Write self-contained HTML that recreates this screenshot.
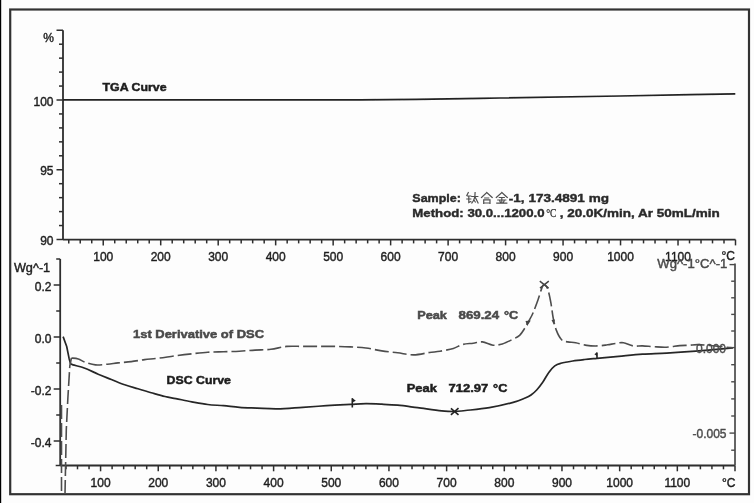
<!DOCTYPE html>
<html><head><meta charset="utf-8"><style>
html,body{margin:0;padding:0;background:#fff;}
body{width:754px;height:503px;overflow:hidden;position:relative;}
svg{position:absolute;left:0;top:0;}
text{font-family:"Liberation Sans",sans-serif;fill:#1e1e1e;}
.ax{font-size:12px;stroke:#1e1e1e;stroke-width:0.4px;}
.ax.gr{stroke:#4a4a4a;}
.lbl{font-size:11.5px;font-weight:bold;stroke:#1e1e1e;stroke-width:0.5px;}
.lbl2{font-size:11.5px;font-weight:bold;stroke:#2a2a2a;stroke-width:0.4px;fill:#2a2a2a;}
.lbl.gr{stroke:#4a4a4a;}
.cjkc{font-family:"Liberation Serif",serif;font-size:13.5px;fill:#2a2a2a;stroke:#2a2a2a;stroke-width:0.25px;}
.gr{fill:#4a4a4a;}
</style></head><body>
<svg width="754" height="503" viewBox="0 0 754 503">
<defs><filter id="bl" x="0" y="0" width="754" height="503" filterUnits="userSpaceOnUse"><feGaussianBlur stdDeviation="0.35"/></filter></defs>
<rect width="754" height="503" fill="#fdfdfd"/>
<g filter="url(#bl)">
<rect x="10.2" y="9.5" width="738.8" height="484.7" fill="none" stroke="#333" stroke-width="2.2"/>
<rect x="0" y="0" width="1.2" height="503" fill="#000"/>
<line x1="63.0" y1="30.25" x2="63.0" y2="239.6" stroke="#2e2e2e" stroke-width="1.8"/>
<line x1="56.5" y1="239.50" x2="63.0" y2="239.50" stroke="#2e2e2e" stroke-width="1.5"/>
<line x1="59.0" y1="225.55" x2="63.0" y2="225.55" stroke="#2e2e2e" stroke-width="1.5"/>
<line x1="59.0" y1="211.60" x2="63.0" y2="211.60" stroke="#2e2e2e" stroke-width="1.5"/>
<line x1="59.0" y1="197.65" x2="63.0" y2="197.65" stroke="#2e2e2e" stroke-width="1.5"/>
<line x1="59.0" y1="183.70" x2="63.0" y2="183.70" stroke="#2e2e2e" stroke-width="1.5"/>
<line x1="56.5" y1="169.75" x2="63.0" y2="169.75" stroke="#2e2e2e" stroke-width="1.5"/>
<line x1="59.0" y1="155.80" x2="63.0" y2="155.80" stroke="#2e2e2e" stroke-width="1.5"/>
<line x1="59.0" y1="141.85" x2="63.0" y2="141.85" stroke="#2e2e2e" stroke-width="1.5"/>
<line x1="59.0" y1="127.90" x2="63.0" y2="127.90" stroke="#2e2e2e" stroke-width="1.5"/>
<line x1="59.0" y1="113.95" x2="63.0" y2="113.95" stroke="#2e2e2e" stroke-width="1.5"/>
<line x1="56.5" y1="100.00" x2="63.0" y2="100.00" stroke="#2e2e2e" stroke-width="1.5"/>
<line x1="59.0" y1="86.05" x2="63.0" y2="86.05" stroke="#2e2e2e" stroke-width="1.5"/>
<line x1="59.0" y1="72.10" x2="63.0" y2="72.10" stroke="#2e2e2e" stroke-width="1.5"/>
<line x1="59.0" y1="58.15" x2="63.0" y2="58.15" stroke="#2e2e2e" stroke-width="1.5"/>
<line x1="59.0" y1="44.20" x2="63.0" y2="44.20" stroke="#2e2e2e" stroke-width="1.5"/>
<line x1="56.5" y1="30.25" x2="63.0" y2="30.25" stroke="#2e2e2e" stroke-width="1.5"/>
<text x="53.5" y="105.60" class="ax" text-anchor="end">100</text>
<text x="53.5" y="175.35" class="ax" text-anchor="end">95</text>
<text x="53.5" y="245.10" class="ax" text-anchor="end">90</text>
<text x="54" y="42" class="ax" text-anchor="end">%</text>
<line x1="63.0" y1="239.6" x2="735.5" y2="239.6" stroke="#2e2e2e" stroke-width="1.9"/>
<line x1="68.75" y1="239.6" x2="68.75" y2="243.4" stroke="#2e2e2e" stroke-width="1.5"/>
<line x1="80.24" y1="239.6" x2="80.24" y2="243.4" stroke="#2e2e2e" stroke-width="1.5"/>
<line x1="91.74" y1="239.6" x2="91.74" y2="243.4" stroke="#2e2e2e" stroke-width="1.5"/>
<line x1="103.24" y1="239.6" x2="103.24" y2="245.4" stroke="#2e2e2e" stroke-width="1.5"/>
<line x1="114.73" y1="239.6" x2="114.73" y2="243.4" stroke="#2e2e2e" stroke-width="1.5"/>
<line x1="126.23" y1="239.6" x2="126.23" y2="243.4" stroke="#2e2e2e" stroke-width="1.5"/>
<line x1="137.72" y1="239.6" x2="137.72" y2="243.4" stroke="#2e2e2e" stroke-width="1.5"/>
<line x1="149.22" y1="239.6" x2="149.22" y2="243.4" stroke="#2e2e2e" stroke-width="1.5"/>
<line x1="160.71" y1="239.6" x2="160.71" y2="245.4" stroke="#2e2e2e" stroke-width="1.5"/>
<line x1="172.21" y1="239.6" x2="172.21" y2="243.4" stroke="#2e2e2e" stroke-width="1.5"/>
<line x1="183.71" y1="239.6" x2="183.71" y2="243.4" stroke="#2e2e2e" stroke-width="1.5"/>
<line x1="195.20" y1="239.6" x2="195.20" y2="243.4" stroke="#2e2e2e" stroke-width="1.5"/>
<line x1="206.70" y1="239.6" x2="206.70" y2="243.4" stroke="#2e2e2e" stroke-width="1.5"/>
<line x1="218.19" y1="239.6" x2="218.19" y2="245.4" stroke="#2e2e2e" stroke-width="1.5"/>
<line x1="229.69" y1="239.6" x2="229.69" y2="243.4" stroke="#2e2e2e" stroke-width="1.5"/>
<line x1="241.18" y1="239.6" x2="241.18" y2="243.4" stroke="#2e2e2e" stroke-width="1.5"/>
<line x1="252.68" y1="239.6" x2="252.68" y2="243.4" stroke="#2e2e2e" stroke-width="1.5"/>
<line x1="264.18" y1="239.6" x2="264.18" y2="243.4" stroke="#2e2e2e" stroke-width="1.5"/>
<line x1="275.67" y1="239.6" x2="275.67" y2="245.4" stroke="#2e2e2e" stroke-width="1.5"/>
<line x1="287.17" y1="239.6" x2="287.17" y2="243.4" stroke="#2e2e2e" stroke-width="1.5"/>
<line x1="298.66" y1="239.6" x2="298.66" y2="243.4" stroke="#2e2e2e" stroke-width="1.5"/>
<line x1="310.16" y1="239.6" x2="310.16" y2="243.4" stroke="#2e2e2e" stroke-width="1.5"/>
<line x1="321.65" y1="239.6" x2="321.65" y2="243.4" stroke="#2e2e2e" stroke-width="1.5"/>
<line x1="333.15" y1="239.6" x2="333.15" y2="245.4" stroke="#2e2e2e" stroke-width="1.5"/>
<line x1="344.65" y1="239.6" x2="344.65" y2="243.4" stroke="#2e2e2e" stroke-width="1.5"/>
<line x1="356.14" y1="239.6" x2="356.14" y2="243.4" stroke="#2e2e2e" stroke-width="1.5"/>
<line x1="367.64" y1="239.6" x2="367.64" y2="243.4" stroke="#2e2e2e" stroke-width="1.5"/>
<line x1="379.13" y1="239.6" x2="379.13" y2="243.4" stroke="#2e2e2e" stroke-width="1.5"/>
<line x1="390.63" y1="239.6" x2="390.63" y2="245.4" stroke="#2e2e2e" stroke-width="1.5"/>
<line x1="402.12" y1="239.6" x2="402.12" y2="243.4" stroke="#2e2e2e" stroke-width="1.5"/>
<line x1="413.62" y1="239.6" x2="413.62" y2="243.4" stroke="#2e2e2e" stroke-width="1.5"/>
<line x1="425.12" y1="239.6" x2="425.12" y2="243.4" stroke="#2e2e2e" stroke-width="1.5"/>
<line x1="436.61" y1="239.6" x2="436.61" y2="243.4" stroke="#2e2e2e" stroke-width="1.5"/>
<line x1="448.11" y1="239.6" x2="448.11" y2="245.4" stroke="#2e2e2e" stroke-width="1.5"/>
<line x1="459.60" y1="239.6" x2="459.60" y2="243.4" stroke="#2e2e2e" stroke-width="1.5"/>
<line x1="471.10" y1="239.6" x2="471.10" y2="243.4" stroke="#2e2e2e" stroke-width="1.5"/>
<line x1="482.59" y1="239.6" x2="482.59" y2="243.4" stroke="#2e2e2e" stroke-width="1.5"/>
<line x1="494.09" y1="239.6" x2="494.09" y2="243.4" stroke="#2e2e2e" stroke-width="1.5"/>
<line x1="505.59" y1="239.6" x2="505.59" y2="245.4" stroke="#2e2e2e" stroke-width="1.5"/>
<line x1="517.08" y1="239.6" x2="517.08" y2="243.4" stroke="#2e2e2e" stroke-width="1.5"/>
<line x1="528.58" y1="239.6" x2="528.58" y2="243.4" stroke="#2e2e2e" stroke-width="1.5"/>
<line x1="540.07" y1="239.6" x2="540.07" y2="243.4" stroke="#2e2e2e" stroke-width="1.5"/>
<line x1="551.57" y1="239.6" x2="551.57" y2="243.4" stroke="#2e2e2e" stroke-width="1.5"/>
<line x1="563.06" y1="239.6" x2="563.06" y2="245.4" stroke="#2e2e2e" stroke-width="1.5"/>
<line x1="574.56" y1="239.6" x2="574.56" y2="243.4" stroke="#2e2e2e" stroke-width="1.5"/>
<line x1="586.06" y1="239.6" x2="586.06" y2="243.4" stroke="#2e2e2e" stroke-width="1.5"/>
<line x1="597.55" y1="239.6" x2="597.55" y2="243.4" stroke="#2e2e2e" stroke-width="1.5"/>
<line x1="609.05" y1="239.6" x2="609.05" y2="243.4" stroke="#2e2e2e" stroke-width="1.5"/>
<line x1="620.54" y1="239.6" x2="620.54" y2="245.4" stroke="#2e2e2e" stroke-width="1.5"/>
<line x1="632.04" y1="239.6" x2="632.04" y2="243.4" stroke="#2e2e2e" stroke-width="1.5"/>
<line x1="643.53" y1="239.6" x2="643.53" y2="243.4" stroke="#2e2e2e" stroke-width="1.5"/>
<line x1="655.03" y1="239.6" x2="655.03" y2="243.4" stroke="#2e2e2e" stroke-width="1.5"/>
<line x1="666.53" y1="239.6" x2="666.53" y2="243.4" stroke="#2e2e2e" stroke-width="1.5"/>
<line x1="678.02" y1="239.6" x2="678.02" y2="245.4" stroke="#2e2e2e" stroke-width="1.5"/>
<line x1="689.52" y1="239.6" x2="689.52" y2="243.4" stroke="#2e2e2e" stroke-width="1.5"/>
<line x1="701.01" y1="239.6" x2="701.01" y2="243.4" stroke="#2e2e2e" stroke-width="1.5"/>
<line x1="712.51" y1="239.6" x2="712.51" y2="243.4" stroke="#2e2e2e" stroke-width="1.5"/>
<line x1="724.00" y1="239.6" x2="724.00" y2="243.4" stroke="#2e2e2e" stroke-width="1.5"/>
<line x1="735.50" y1="239.6" x2="735.50" y2="245.4" stroke="#2e2e2e" stroke-width="1.5"/>
<text x="103.24" y="260.9" class="ax" text-anchor="middle">100</text>
<text x="160.71" y="260.9" class="ax" text-anchor="middle">200</text>
<text x="218.19" y="260.9" class="ax" text-anchor="middle">300</text>
<text x="275.67" y="260.9" class="ax" text-anchor="middle">400</text>
<text x="333.15" y="260.9" class="ax" text-anchor="middle">500</text>
<text x="390.63" y="260.9" class="ax" text-anchor="middle">600</text>
<text x="448.11" y="260.9" class="ax" text-anchor="middle">700</text>
<text x="505.59" y="260.9" class="ax" text-anchor="middle">800</text>
<text x="563.06" y="260.9" class="ax" text-anchor="middle">900</text>
<text x="620.54" y="260.9" class="ax" text-anchor="middle">1000</text>
<text x="678.02" y="260.9" class="ax" text-anchor="middle">1100</text>
<text x="735" y="260" class="ax" text-anchor="end">°C</text>
<text x="102.5" y="91.1" class="lbl" textLength="64" lengthAdjust="spacingAndGlyphs">TGA Curve</text>
<text x="412.3" y="202.3" class="lbl2" textLength="48.6" lengthAdjust="spacingAndGlyphs">Sample:</text>
<text x="508.8" y="202.3" class="lbl2" textLength="100.2" lengthAdjust="spacingAndGlyphs">-1, 173.4891 mg</text>
<text x="412.3" y="216.5" class="lbl2" textLength="132.3" lengthAdjust="spacingAndGlyphs">Method: 30.0...1200.0</text>
<text x="546.2" y="216.8" class="cjkc" textLength="10.3" lengthAdjust="spacingAndGlyphs">°C</text>
<text x="559.7" y="216.5" class="lbl2" textLength="160.1" lengthAdjust="spacingAndGlyphs">, 20.0K/min, Ar 50mL/min</text>
<path transform="translate(466.3,192)" d="M2,0.5 L0.5,3.5 M1,4 L4.5,4 M0.5,7 L4.5,7 M2.5,4 L2.5,10.5 L4.5,9.5 M5.5,4.5 L11.5,4.5 M8.8,0.5 C8.8,6 7.5,9 5.5,11 M8.8,5 L11.8,11 M8,8.5 L9,10" fill="none" stroke="#505050" stroke-width="1.2" stroke-linecap="square"/>
<path transform="translate(481.2,192)" d="M5.5,0.5 L0.3,5.5 M5.5,0.5 L11,5.5 M3.5,6 L7.5,6 M2.5,7.8 L2.5,11.3 M2.5,7.8 L8.8,7.8 L8.8,11.3 M2.5,11 L8.8,11" fill="none" stroke="#505050" stroke-width="1.2" stroke-linecap="square"/>
<path transform="translate(495.8,192)" d="M6,0.5 L0.5,5.5 M6,0.5 L11.5,5.5 M3.5,5.5 L8.5,5.5 M2,8 L10,8 M6,5.5 L6,11 M4,9 L4.6,10.3 M8.3,9 L7.6,10.3 M1,11.2 L11,11.2" fill="none" stroke="#505050" stroke-width="1.2" stroke-linecap="square"/>
<line x1="60.2" y1="259.0" x2="60.2" y2="465.5" stroke="#2e2e2e" stroke-width="1.8"/>
<line x1="53.7" y1="441.00" x2="60.2" y2="441.00" stroke="#2e2e2e" stroke-width="1.5"/>
<line x1="56.2" y1="415.00" x2="60.2" y2="415.00" stroke="#2e2e2e" stroke-width="1.5"/>
<line x1="53.7" y1="389.00" x2="60.2" y2="389.00" stroke="#2e2e2e" stroke-width="1.5"/>
<line x1="56.2" y1="363.00" x2="60.2" y2="363.00" stroke="#2e2e2e" stroke-width="1.5"/>
<line x1="53.7" y1="337.00" x2="60.2" y2="337.00" stroke="#2e2e2e" stroke-width="1.5"/>
<line x1="56.2" y1="311.00" x2="60.2" y2="311.00" stroke="#2e2e2e" stroke-width="1.5"/>
<line x1="53.7" y1="285.00" x2="60.2" y2="285.00" stroke="#2e2e2e" stroke-width="1.5"/>
<line x1="56.2" y1="259.00" x2="60.2" y2="259.00" stroke="#2e2e2e" stroke-width="1.5"/>
<line x1="55.7" y1="465.5" x2="60.2" y2="465.5" stroke="#2e2e2e" stroke-width="1.5"/>
<text x="51.5" y="290.60" class="ax" text-anchor="end">0.2</text>
<text x="51.5" y="342.60" class="ax" text-anchor="end">0.0</text>
<text x="51.5" y="394.60" class="ax" text-anchor="end">-0.2</text>
<text x="51.5" y="446.60" class="ax" text-anchor="end">-0.4</text>
<text x="13.9" y="271.5" class="ax" textLength="36.3" lengthAdjust="spacingAndGlyphs">Wg^-1</text>
<line x1="60.2" y1="465.5" x2="735.0" y2="465.5" stroke="#2e2e2e" stroke-width="1.9"/>
<line x1="65.97" y1="465.5" x2="65.97" y2="469.3" stroke="#2e2e2e" stroke-width="1.5"/>
<line x1="77.50" y1="465.5" x2="77.50" y2="469.3" stroke="#2e2e2e" stroke-width="1.5"/>
<line x1="89.04" y1="465.5" x2="89.04" y2="469.3" stroke="#2e2e2e" stroke-width="1.5"/>
<line x1="100.57" y1="465.5" x2="100.57" y2="471.3" stroke="#2e2e2e" stroke-width="1.5"/>
<line x1="112.11" y1="465.5" x2="112.11" y2="469.3" stroke="#2e2e2e" stroke-width="1.5"/>
<line x1="123.64" y1="465.5" x2="123.64" y2="469.3" stroke="#2e2e2e" stroke-width="1.5"/>
<line x1="135.18" y1="465.5" x2="135.18" y2="469.3" stroke="#2e2e2e" stroke-width="1.5"/>
<line x1="146.71" y1="465.5" x2="146.71" y2="469.3" stroke="#2e2e2e" stroke-width="1.5"/>
<line x1="158.25" y1="465.5" x2="158.25" y2="471.3" stroke="#2e2e2e" stroke-width="1.5"/>
<line x1="169.78" y1="465.5" x2="169.78" y2="469.3" stroke="#2e2e2e" stroke-width="1.5"/>
<line x1="181.32" y1="465.5" x2="181.32" y2="469.3" stroke="#2e2e2e" stroke-width="1.5"/>
<line x1="192.85" y1="465.5" x2="192.85" y2="469.3" stroke="#2e2e2e" stroke-width="1.5"/>
<line x1="204.39" y1="465.5" x2="204.39" y2="469.3" stroke="#2e2e2e" stroke-width="1.5"/>
<line x1="215.92" y1="465.5" x2="215.92" y2="471.3" stroke="#2e2e2e" stroke-width="1.5"/>
<line x1="227.46" y1="465.5" x2="227.46" y2="469.3" stroke="#2e2e2e" stroke-width="1.5"/>
<line x1="238.99" y1="465.5" x2="238.99" y2="469.3" stroke="#2e2e2e" stroke-width="1.5"/>
<line x1="250.53" y1="465.5" x2="250.53" y2="469.3" stroke="#2e2e2e" stroke-width="1.5"/>
<line x1="262.06" y1="465.5" x2="262.06" y2="469.3" stroke="#2e2e2e" stroke-width="1.5"/>
<line x1="273.60" y1="465.5" x2="273.60" y2="471.3" stroke="#2e2e2e" stroke-width="1.5"/>
<line x1="285.13" y1="465.5" x2="285.13" y2="469.3" stroke="#2e2e2e" stroke-width="1.5"/>
<line x1="296.67" y1="465.5" x2="296.67" y2="469.3" stroke="#2e2e2e" stroke-width="1.5"/>
<line x1="308.20" y1="465.5" x2="308.20" y2="469.3" stroke="#2e2e2e" stroke-width="1.5"/>
<line x1="319.74" y1="465.5" x2="319.74" y2="469.3" stroke="#2e2e2e" stroke-width="1.5"/>
<line x1="331.27" y1="465.5" x2="331.27" y2="471.3" stroke="#2e2e2e" stroke-width="1.5"/>
<line x1="342.81" y1="465.5" x2="342.81" y2="469.3" stroke="#2e2e2e" stroke-width="1.5"/>
<line x1="354.34" y1="465.5" x2="354.34" y2="469.3" stroke="#2e2e2e" stroke-width="1.5"/>
<line x1="365.88" y1="465.5" x2="365.88" y2="469.3" stroke="#2e2e2e" stroke-width="1.5"/>
<line x1="377.41" y1="465.5" x2="377.41" y2="469.3" stroke="#2e2e2e" stroke-width="1.5"/>
<line x1="388.95" y1="465.5" x2="388.95" y2="471.3" stroke="#2e2e2e" stroke-width="1.5"/>
<line x1="400.48" y1="465.5" x2="400.48" y2="469.3" stroke="#2e2e2e" stroke-width="1.5"/>
<line x1="412.02" y1="465.5" x2="412.02" y2="469.3" stroke="#2e2e2e" stroke-width="1.5"/>
<line x1="423.55" y1="465.5" x2="423.55" y2="469.3" stroke="#2e2e2e" stroke-width="1.5"/>
<line x1="435.09" y1="465.5" x2="435.09" y2="469.3" stroke="#2e2e2e" stroke-width="1.5"/>
<line x1="446.62" y1="465.5" x2="446.62" y2="471.3" stroke="#2e2e2e" stroke-width="1.5"/>
<line x1="458.16" y1="465.5" x2="458.16" y2="469.3" stroke="#2e2e2e" stroke-width="1.5"/>
<line x1="469.69" y1="465.5" x2="469.69" y2="469.3" stroke="#2e2e2e" stroke-width="1.5"/>
<line x1="481.23" y1="465.5" x2="481.23" y2="469.3" stroke="#2e2e2e" stroke-width="1.5"/>
<line x1="492.76" y1="465.5" x2="492.76" y2="469.3" stroke="#2e2e2e" stroke-width="1.5"/>
<line x1="504.30" y1="465.5" x2="504.30" y2="471.3" stroke="#2e2e2e" stroke-width="1.5"/>
<line x1="515.83" y1="465.5" x2="515.83" y2="469.3" stroke="#2e2e2e" stroke-width="1.5"/>
<line x1="527.37" y1="465.5" x2="527.37" y2="469.3" stroke="#2e2e2e" stroke-width="1.5"/>
<line x1="538.90" y1="465.5" x2="538.90" y2="469.3" stroke="#2e2e2e" stroke-width="1.5"/>
<line x1="550.44" y1="465.5" x2="550.44" y2="469.3" stroke="#2e2e2e" stroke-width="1.5"/>
<line x1="561.97" y1="465.5" x2="561.97" y2="471.3" stroke="#2e2e2e" stroke-width="1.5"/>
<line x1="573.51" y1="465.5" x2="573.51" y2="469.3" stroke="#2e2e2e" stroke-width="1.5"/>
<line x1="585.04" y1="465.5" x2="585.04" y2="469.3" stroke="#2e2e2e" stroke-width="1.5"/>
<line x1="596.58" y1="465.5" x2="596.58" y2="469.3" stroke="#2e2e2e" stroke-width="1.5"/>
<line x1="608.11" y1="465.5" x2="608.11" y2="469.3" stroke="#2e2e2e" stroke-width="1.5"/>
<line x1="619.65" y1="465.5" x2="619.65" y2="471.3" stroke="#2e2e2e" stroke-width="1.5"/>
<line x1="631.18" y1="465.5" x2="631.18" y2="469.3" stroke="#2e2e2e" stroke-width="1.5"/>
<line x1="642.72" y1="465.5" x2="642.72" y2="469.3" stroke="#2e2e2e" stroke-width="1.5"/>
<line x1="654.25" y1="465.5" x2="654.25" y2="469.3" stroke="#2e2e2e" stroke-width="1.5"/>
<line x1="665.79" y1="465.5" x2="665.79" y2="469.3" stroke="#2e2e2e" stroke-width="1.5"/>
<line x1="677.32" y1="465.5" x2="677.32" y2="471.3" stroke="#2e2e2e" stroke-width="1.5"/>
<line x1="688.86" y1="465.5" x2="688.86" y2="469.3" stroke="#2e2e2e" stroke-width="1.5"/>
<line x1="700.39" y1="465.5" x2="700.39" y2="469.3" stroke="#2e2e2e" stroke-width="1.5"/>
<line x1="711.93" y1="465.5" x2="711.93" y2="469.3" stroke="#2e2e2e" stroke-width="1.5"/>
<line x1="723.46" y1="465.5" x2="723.46" y2="469.3" stroke="#2e2e2e" stroke-width="1.5"/>
<line x1="735.00" y1="465.5" x2="735.00" y2="471.3" stroke="#2e2e2e" stroke-width="1.5"/>
<text x="100.57" y="486.6" class="ax" text-anchor="middle">100</text>
<text x="158.25" y="486.6" class="ax" text-anchor="middle">200</text>
<text x="215.92" y="486.6" class="ax" text-anchor="middle">300</text>
<text x="273.60" y="486.6" class="ax" text-anchor="middle">400</text>
<text x="331.27" y="486.6" class="ax" text-anchor="middle">500</text>
<text x="388.95" y="486.6" class="ax" text-anchor="middle">600</text>
<text x="446.62" y="486.6" class="ax" text-anchor="middle">700</text>
<text x="504.30" y="486.6" class="ax" text-anchor="middle">800</text>
<text x="561.97" y="486.6" class="ax" text-anchor="middle">900</text>
<text x="619.65" y="486.6" class="ax" text-anchor="middle">1000</text>
<text x="677.32" y="486.6" class="ax" text-anchor="middle">1100</text>
<text x="735.5" y="486.6" class="ax" text-anchor="end">°C</text>
<line x1="735" y1="263.5" x2="735" y2="465.5" stroke="#4a4a4a" stroke-width="1.7"/>
<line x1="731.2" y1="450.20" x2="735" y2="450.20" stroke="#4a4a4a" stroke-width="1.4"/>
<line x1="729.5" y1="433.10" x2="735" y2="433.10" stroke="#4a4a4a" stroke-width="1.4"/>
<line x1="731.2" y1="416.00" x2="735" y2="416.00" stroke="#4a4a4a" stroke-width="1.4"/>
<line x1="731.2" y1="398.90" x2="735" y2="398.90" stroke="#4a4a4a" stroke-width="1.4"/>
<line x1="731.2" y1="381.80" x2="735" y2="381.80" stroke="#4a4a4a" stroke-width="1.4"/>
<line x1="731.2" y1="364.70" x2="735" y2="364.70" stroke="#4a4a4a" stroke-width="1.4"/>
<line x1="729.5" y1="347.60" x2="735" y2="347.60" stroke="#4a4a4a" stroke-width="1.4"/>
<line x1="731.2" y1="331.00" x2="735" y2="331.00" stroke="#4a4a4a" stroke-width="1.4"/>
<line x1="731.2" y1="314.40" x2="735" y2="314.40" stroke="#4a4a4a" stroke-width="1.4"/>
<line x1="731.2" y1="297.80" x2="735" y2="297.80" stroke="#4a4a4a" stroke-width="1.4"/>
<line x1="731.2" y1="281.20" x2="735" y2="281.20" stroke="#4a4a4a" stroke-width="1.4"/>
<line x1="729.5" y1="264.60" x2="735" y2="264.60" stroke="#4a4a4a" stroke-width="1.4"/>
<path d="M63.1,336.6 L66.7,346.5 L69.1,358.4 L70.6,363.8" fill="none" stroke="#262626" stroke-width="1.7" stroke-linejoin="round"/>
<path d="M70.60,363.80 C71.00,363.98 70.62,364.17 73.00,364.90 C75.38,365.63 80.70,366.65 84.90,368.20 C89.10,369.75 93.78,372.32 98.20,374.20 C102.62,376.08 106.98,377.73 111.40,379.50 C115.82,381.27 120.28,383.25 124.70,384.80 C129.12,386.35 133.48,387.48 137.90,388.80 C142.32,390.12 146.68,391.42 151.20,392.70 C155.72,393.98 160.88,395.52 165.00,396.50 C169.12,397.48 171.43,397.72 175.90,398.60 C180.37,399.48 186.50,400.82 191.80,401.80 C197.10,402.78 202.40,403.85 207.70,404.50 C213.00,405.15 218.30,405.23 223.60,405.70 C228.90,406.17 233.93,406.90 239.50,407.30 C245.07,407.70 250.70,407.83 257.00,408.10 C263.30,408.37 269.68,409.03 277.30,408.90 C284.92,408.77 294.50,407.83 302.70,407.30 C310.90,406.77 318.55,406.18 326.50,405.70 C334.45,405.22 343.83,404.73 350.40,404.40 C356.97,404.07 360.67,403.73 365.90,403.70 C371.13,403.67 376.50,403.95 381.80,404.20 C387.10,404.45 391.72,404.62 397.70,405.20 C403.68,405.78 410.38,406.77 417.70,407.70 C425.02,408.63 435.43,410.17 441.60,410.80 C447.77,411.43 450.72,411.55 454.70,411.50 C458.68,411.45 459.72,411.13 465.50,410.50 C471.28,409.87 481.45,409.05 489.40,407.70 C497.35,406.35 507.23,404.02 513.20,402.40 C519.17,400.78 522.23,399.23 525.20,398.00 C528.17,396.77 529.05,396.38 531.00,395.00 C532.95,393.62 534.92,391.87 536.90,389.70 C538.88,387.53 540.92,384.88 542.90,382.00 C544.88,379.12 546.82,375.08 548.80,372.40 C550.78,369.72 552.80,367.42 554.80,365.90 C556.80,364.38 557.82,364.12 560.80,363.30 C563.78,362.48 568.73,361.63 572.70,361.00 C576.67,360.37 580.55,359.95 584.60,359.50 C588.65,359.05 591.32,358.83 597.00,358.30 C602.68,357.77 611.12,356.98 618.70,356.30 C626.28,355.62 634.53,354.72 642.50,354.20 C650.47,353.68 657.63,353.70 666.50,353.20 C675.37,352.70 684.65,352.08 695.70,351.20 C706.75,350.32 726.62,348.45 732.80,347.90" fill="none" stroke="#262626" stroke-width="1.7" stroke-linejoin="round"/>
<path d="M65,494 L66.3,429.4 L67.9,397.6 L69.8,366 L71.4,358" fill="none" stroke="#4e4e4e" stroke-width="1.6" stroke-dasharray="14,4" stroke-linejoin="round"/>
<path d="M61.5,405 L61.5,494" fill="none" stroke="#4e4e4e" stroke-width="1.6" stroke-dasharray="14,4" stroke-linejoin="round"/>
<path d="M71.40,358.00 C72.55,358.15 76.05,358.20 78.30,358.90 C80.55,359.60 82.03,361.20 84.90,362.20 C87.77,363.20 91.75,364.57 95.50,364.90 C99.25,365.23 103.65,364.53 107.40,364.20 C111.15,363.87 114.02,363.33 118.00,362.90 C121.98,362.47 126.87,362.15 131.30,361.60 C135.73,361.05 140.18,360.15 144.60,359.60 C149.02,359.05 152.58,358.95 157.80,358.30 C163.02,357.65 170.23,356.45 175.90,355.70 C181.57,354.95 186.50,354.38 191.80,353.80 C197.10,353.22 202.40,352.55 207.70,352.20 C213.00,351.85 218.30,351.87 223.60,351.70 C228.90,351.53 234.27,351.47 239.50,351.20 C244.73,350.93 249.77,350.42 255.00,350.10 C260.23,349.78 265.60,349.92 270.90,349.30 C276.20,348.68 281.50,346.88 286.80,346.40 C292.10,345.92 297.40,346.40 302.70,346.40 C308.00,346.40 313.30,346.40 318.60,346.40 C323.90,346.40 329.20,346.32 334.50,346.40 C339.80,346.48 345.17,346.63 350.40,346.90 C355.63,347.17 360.67,347.33 365.90,348.00 C371.13,348.67 376.50,350.10 381.80,350.90 C387.10,351.70 392.40,352.13 397.70,352.80 C403.00,353.47 408.30,354.95 413.60,354.90 C418.90,354.85 425.10,353.12 429.50,352.50 C433.90,351.88 436.03,351.87 440.00,351.20 C443.97,350.53 449.55,349.62 453.30,348.50 C457.05,347.38 459.18,345.38 462.50,344.50 C465.82,343.62 469.88,343.63 473.20,343.20 C476.52,342.77 479.10,341.57 482.40,341.90 C485.70,342.23 489.68,344.87 493.00,345.20 C496.32,345.53 499.20,344.78 502.30,343.90 C505.40,343.02 508.72,341.33 511.60,339.90 C514.48,338.47 517.38,337.28 519.60,335.30 C521.82,333.32 523.42,330.30 524.90,328.00 C526.38,325.70 527.17,323.97 528.50,321.50 C529.83,319.03 531.27,316.97 532.90,313.20 C534.53,309.43 536.82,303.08 538.30,298.90 C539.78,294.72 540.82,290.50 541.80,288.10 C542.78,285.70 543.20,284.30 544.20,284.50 C545.20,284.70 546.70,286.32 547.80,289.30 C548.90,292.28 549.90,297.62 550.80,302.40 C551.70,307.18 552.30,313.42 553.20,318.00 C554.10,322.58 554.83,326.32 556.20,329.90 C557.57,333.48 559.48,337.50 561.40,339.50 C563.32,341.50 565.32,341.37 567.70,341.90 C570.08,342.43 572.52,342.12 575.70,342.70 C578.88,343.28 583.08,344.87 586.80,345.40 C590.52,345.93 594.55,346.00 598.00,345.90 C601.45,345.80 604.58,345.20 607.50,344.80 C610.42,344.40 612.85,343.85 615.50,343.50 C618.15,343.15 620.48,342.30 623.40,342.70 C626.32,343.10 629.82,345.37 633.00,345.90 C636.18,346.43 639.05,345.77 642.50,345.90 C645.95,346.03 649.72,346.48 653.70,346.70 C657.68,346.92 662.05,347.38 666.40,347.20 C670.75,347.02 676.03,345.92 679.80,345.60 C683.57,345.28 685.90,345.47 689.00,345.30 C692.10,345.13 694.07,344.48 698.40,344.60 C702.73,344.72 709.27,345.45 715.00,346.00 C720.73,346.55 729.83,347.58 732.80,347.90" fill="none" stroke="#4e4e4e" stroke-width="1.6" stroke-dasharray="14,4" stroke-linejoin="round"/>
<path d="M450.9,408.3 L458.5,414.9 M458.5,408.1 L450.9,414.9" fill="none" stroke="#222" stroke-width="1.6"/>
<path d="M539.8,281.2 L548.6,288.2 M548.8,281.2 L540,288.2" fill="none" stroke="#444" stroke-width="1.5"/>
<path d="M352.3,398.2 L352.3,407.5" fill="none" stroke="#222" stroke-width="1.6"/><path d="M352.3,398 L355.8,400.8 L352.3,402.5 Z" fill="#222"/>
<path d="M597,352.5 L597,358.8" fill="none" stroke="#222" stroke-width="1.6"/><path d="M597,352.3 L594.4,354.3 L597,356 Z" fill="#222"/>
<path d="M525.5,321 L530.8,320.5 L527.2,326 Z" fill="#444"/>
<path d="M551.5,320 L555,319.6 L553.8,324.5 Z" fill="#444"/>
<path d="M63,99.8 L360,99.8 L417,99.3 L480,98.4 L500,98 L620,96 L690,94.7 L735.3,93.9" fill="none" stroke="#222" stroke-width="1.7"/>
<text x="726" y="352.6" class="ax gr" text-anchor="end">0.000</text>
<text x="726.5" y="437.6" class="ax gr" text-anchor="end">-0.005</text>
<text x="657.3" y="267.9" class="ax gr" textLength="70" lengthAdjust="spacingAndGlyphs">Wg^-1°C^-1</text>
<text x="133" y="337.9" class="lbl gr" textLength="131" lengthAdjust="spacingAndGlyphs">1st Derivative of DSC</text>
<text x="166.6" y="384.1" class="lbl" textLength="64.3" lengthAdjust="spacingAndGlyphs">DSC Curve</text>
<text x="406.7" y="391.7" class="lbl" textLength="30.2" lengthAdjust="spacingAndGlyphs">Peak</text>
<text x="448.5" y="391.7" class="lbl" textLength="39.8" lengthAdjust="spacingAndGlyphs">712.97</text>
<text x="493.1" y="391.7" class="lbl" textLength="14.3" lengthAdjust="spacingAndGlyphs">°C</text>
<text x="417.2" y="319.2" class="lbl gr" textLength="29.7" lengthAdjust="spacingAndGlyphs">Peak</text>
<text x="458.5" y="319.2" class="lbl gr" textLength="40.6" lengthAdjust="spacingAndGlyphs">869.24</text>
<text x="503.9" y="319.2" class="lbl gr" textLength="14.3" lengthAdjust="spacingAndGlyphs">°C</text>
</g>
</svg></body></html>
